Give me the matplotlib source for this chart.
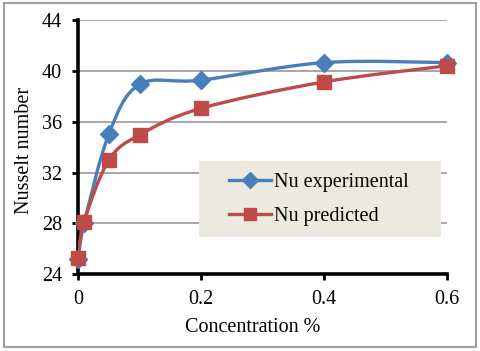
import numpy as np
import matplotlib
matplotlib.use("Agg")
import matplotlib.pyplot as plt
from matplotlib.path import Path
from matplotlib.patches import PathPatch, Rectangle
from matplotlib.lines import Line2D

conc = [0, 0.01, 0.05, 0.1, 0.2, 0.4, 0.6]
nu_exp = [25.2, 28.0, 35.0, 38.93, 39.27, 40.65, 40.65]
nu_pred = [25.25, 28.15, 32.97, 34.96, 37.05, 39.13, 40.4]
xticks = [0, 0.2, 0.4, 0.6]
yticks = [24, 28, 32, 36, 40, 44]
labels = ["Nu experimental", "Nu predicted"]

BLUE = "#4A7EBB"
RED = "#BE4B48"
FS = 14.5

plt.rcParams['font.family'] = ['Liberation Serif', 'DejaVu Serif']

W, H = 480, 351
L, R, T, B = 78, 447, 20, 274.3
fig = plt.figure(figsize=(4.8, 3.51), dpi=100)
ax = fig.add_axes([L/W, 1-B/H, (R-L)/W, (B-T)/H])
ax.set_xlim(0, 0.6)
ax.set_ylim(24, 44)


def ax_x(px):
    return (px - L) / (R - L)


def ax_y(py):
    return (B - py) / (B - T)


def smooth_path(x, y):
    pts = np.column_stack([x, y]).astype(float)
    n = len(pts)
    verts = [pts[0]]
    codes = [Path.MOVETO]
    for i in range(n - 1):
        p0 = pts[i - 1] if i > 0 else pts[i]
        p1 = pts[i]
        p2 = pts[i + 1]
        p3 = pts[i + 2] if i + 2 < n else pts[i + 1]
        c1 = p1 + (p2 - p0) / 6.0
        c2 = p2 - (p3 - p1) / 6.0
        verts += [c1, c2, p2]
        codes += [Path.CURVE4] * 3
    return Path(verts, codes)


for ys, col, mk, ms in [(nu_exp, BLUE, 'D', 9), (nu_pred, RED, 's', 10)]:
    patch = PathPatch(smooth_path(conc, ys), facecolor='none', edgecolor=col,
                      lw=2.4, zorder=3, capstyle='round', joinstyle='round')
    ax.add_patch(patch)
    ax.plot(conc, ys, ls='none', marker=mk, ms=ms, color=col, zorder=4, clip_on=False)

ax.set_xticks(xticks)
ax.set_xticklabels([f"{v:g}" for v in xticks])
ax.set_yticks(yticks)
ax.set_yticklabels([str(v) for v in yticks])
ax.yaxis.grid(True, color='#A0A0A0', lw=1.3)
ax.set_axisbelow(True)
for s in ['top', 'right']:
    ax.spines[s].set_visible(False)
for s in ['left', 'bottom']:
    ax.spines[s].set_linewidth(2.6)
    ax.spines[s].set_color('black')
    ax.spines[s].set_zorder(2.5)
ax.tick_params(axis='both', direction='out', length=4.5, width=2.0, labelsize=FS, colors='black')
ax.tick_params(axis='x', pad=7)
ax.tick_params(axis='y', pad=7)

ax.set_xlabel("Concentration %", fontsize=FS)
ax.set_ylabel("Nusselt number", fontsize=FS)
ax.xaxis.label.set_va('center')
ax.yaxis.label.set_va('center')
ax.xaxis.set_label_coords(ax_x(252.5), ax_y(327))
ax.yaxis.set_label_coords(ax_x(25), ax_y(150))

# legend background box
ax.add_patch(Rectangle((ax_x(199), ax_y(237)), ax_x(441) - ax_x(199), ax_y(161) - ax_y(237),
                       transform=ax.transAxes, facecolor='#EBE9E0', edgecolor='none',
                       zorder=5, clip_on=False))
handles = [Line2D([], [], color=BLUE, lw=2.4, marker='D', ms=8),
           Line2D([], [], color=RED, lw=2.4, marker='s', ms=9)]
leg = ax.legend(handles, labels, loc='center left',
                bbox_to_anchor=(ax_x(229), ax_y(199.5)),
                fontsize=FS, frameon=False,
                handlelength=2.1, handletextpad=0.15, borderaxespad=0,
                borderpad=0, labelspacing=0.72)
leg.set_zorder(6)

fig.patches.append(Rectangle((4/W, 1-347/H), 472/W, 344/H, transform=fig.transFigure,
                             fill=False, edgecolor='#A0A0A0', lw=1.5))

fig.savefig("out.png", dpi=100)
